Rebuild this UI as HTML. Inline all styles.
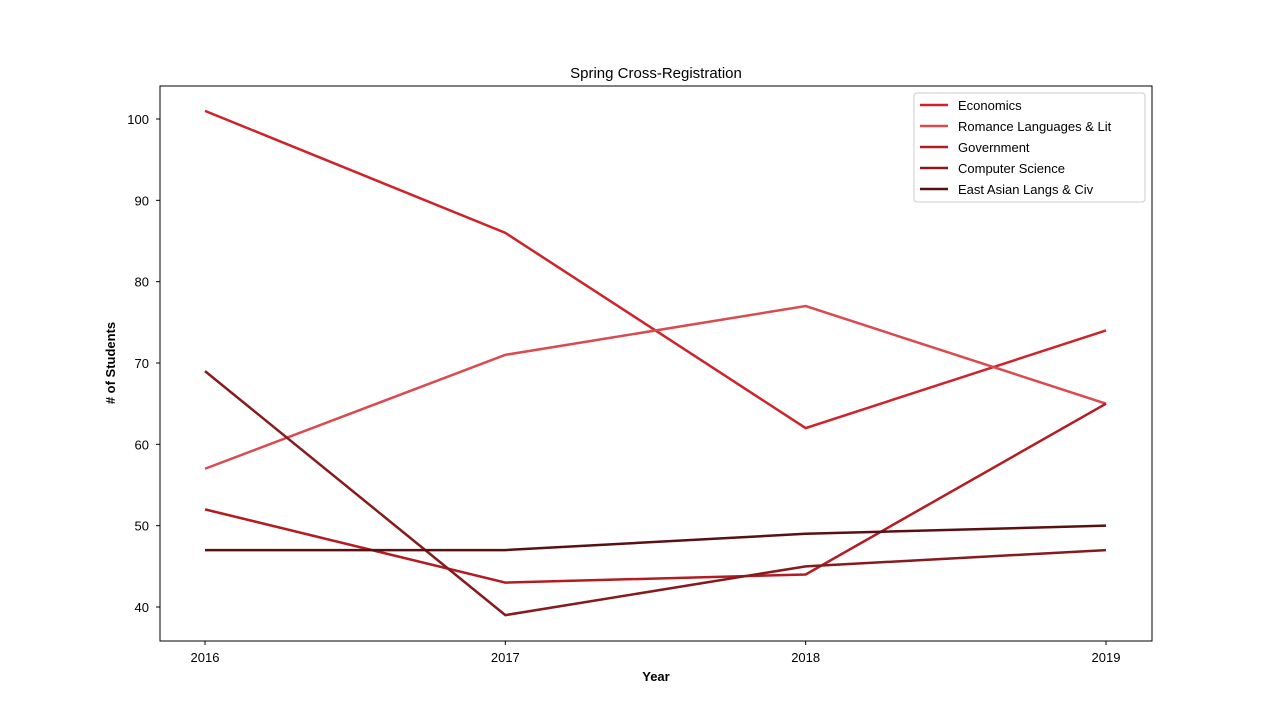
<!DOCTYPE html>
<html><head><meta charset="utf-8"><style>
body{margin:0;background:#fff;font-family:"Liberation Sans","DejaVu Sans",sans-serif;}
svg text{font-family:"Liberation Sans","DejaVu Sans",sans-serif;}
</style></head><body>
<svg id="chart" width="1280" height="720" xmlns="http://www.w3.org/2000/svg">
<rect width="1280" height="720" fill="#fff"/>
<text x="656" y="78" font-size="15" text-anchor="middle">Spring Cross-Registration</text>
<g id="grid"></g>
<g id="lines"></g>
<rect x="160" y="86" width="992" height="555" fill="none" stroke="#000" stroke-width="1"/>
<text x="656" y="681" font-size="13" font-weight="bold" text-anchor="middle">Year</text>
<text x="115" y="363" font-size="13" font-weight="bold" text-anchor="middle" transform="rotate(-90 115 363)"># of Students</text>
<g id="legend"></g>
</svg>
<script>
const years = [2016, 2017, 2018, 2019];
const seriesNames = ["Economics", "Romance Languages & Lit", "Government", "Computer Science", "East Asian Langs & Civ"];
const economics = [101, 86, 62, 74];
const romance = [57, 71, 77, 65];
const government = [52, 43, 44, 65];
const compsci = [69, 39, 45, 47];
const eastAsian = [47, 47, 49, 50];
const yTicks = [40, 50, 60, 70, 80, 90, 100];
const seriesValues = [economics, romance, government, compsci, eastAsian];
const colors = ["#cf232b", "#da4a4f", "#b21c22", "#861a1d", "#5a1013"];
const NS = "http://www.w3.org/2000/svg";
function xScale(y){return 205 + (y - 2016) * (1106 - 205) / 3;}
function yScale(v){return 607 - (v - 40) * (607 - 119) / 60;}
function mk(tag, attrs, parent){const e=document.createElementNS(NS,tag);for(const k in attrs)e.setAttribute(k,attrs[k]);parent.appendChild(e);return e;}
const grid=document.getElementById("grid");
years.forEach(y=>{
  const t=mk("line",{x1:xScale(y),x2:xScale(y),y1:641,y2:645,stroke:"#000"},grid);
  
  
  const l=mk("text",{x:xScale(y),y:662,"font-size":13,"text-anchor":"middle"},grid);
  l.textContent=y;
  
  
});
yTicks.forEach(v=>{
  const t=mk("line",{x1:156,x2:160,y1:yScale(v),y2:yScale(v),stroke:"#000"},grid);
  
  
  const l=mk("text",{x:149,y:yScale(v)+5,"font-size":13,"text-anchor":"end"},grid);
  l.textContent=v;
  
  
});
const lines=document.getElementById("lines");
seriesValues.forEach((vals,i)=>{
  const p=mk("polyline",{points:vals.map((v,j)=>xScale(years[j])+","+yScale(v)).join(" "),fill:"none",stroke:colors[i],"stroke-width":2.5},lines);
  
  
});
const lg=document.getElementById("legend");
const box=mk("rect",{x:914,y:93,width:231,height:109,fill:"#fff",stroke:"#ccc",rx:3},lg);


seriesNames.forEach((n,i)=>{
  const y=105+i*21;
  const l=mk("line",{x1:920,x2:948,y1:y,y2:y,stroke:colors[i],"stroke-width":2.5},lg);
  
  
  const t=mk("text",{x:958,y:y+5,"font-size":13},lg);
  t.textContent=n;
  
  
});
</script>
</body></html>
